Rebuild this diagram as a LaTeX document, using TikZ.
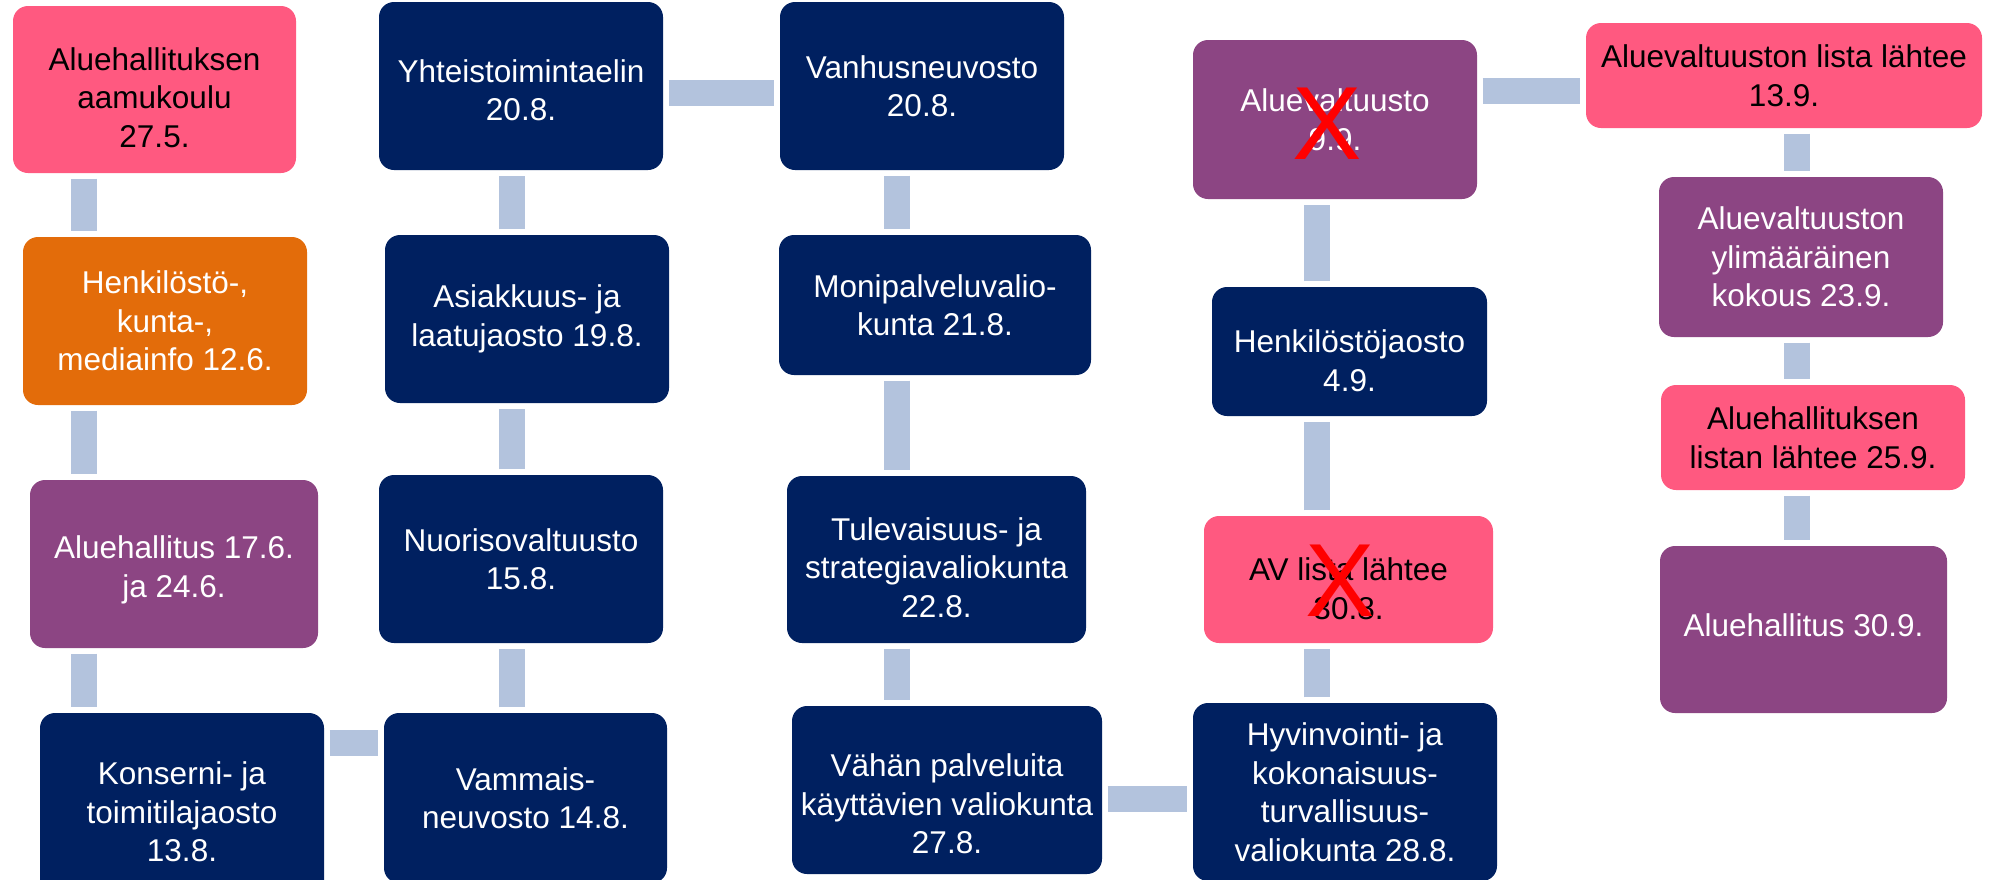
\documentclass[tikz,border=0pt]{standalone}
\usepackage{fontspec}
\setmainfont{Liberation Sans}
\usepackage{xcolor}
\usepackage{tikz}
\definecolor{ahnavy}{RGB}{0,32,96}
\definecolor{ahviolet}{RGB}{140,69,131}
\definecolor{ahpink}{RGB}{255,89,128}
\definecolor{ahorange}{RGB}{227,108,10}
\definecolor{ahsteel}{RGB}{179,195,221}
\tikzstyle{card} = [rectangle, rounded corners=15pt, inner sep=2pt, align=center, font=\fontsize{31.5}{38.5}\selectfont]
\tikzstyle{meeting} = [card, fill=ahnavy, text=white]
\tikzstyle{council} = [card, fill=ahviolet, text=white]
\tikzstyle{listdue} = [card, fill=ahpink, text=black]
\tikzstyle{info} = [card, fill=ahorange, text=white]
\tikzstyle{link} = [draw=ahsteel, line width=26pt, shorten <=5.5pt, shorten >=5.5pt]
\tikzstyle{cancel} = [text=red, inner sep=0pt, font=\fontsize{104}{104}\selectfont]

\begin{document}
\begin{tikzpicture}[x=1pt, y=-1pt]
        \clip (0,0) rectangle (1993,879);

        \node (aamukoulu) [listdue, minimum width=283pt, minimum height=167pt] at (154.5,89.5) {\rule{0pt}{38.5pt}Aluehallituksen\\aamukoulu\\27.5.};
        \node (mediainfo) [info, minimum width=284pt, minimum height=168pt] at (165,321) {Henkilöstö-,\\kunta-,\\mediainfo 12.6.};
        \node (ah1706) [council, minimum width=288pt, minimum height=168pt] at (174,564) {\rule{0pt}{35pt}Aluehallitus 17.6.\\ja 24.6.};
        \node (konserni) [meeting, minimum width=284pt, minimum height=198pt] at (182,812) {Konserni- ja\\toimitilajaosto\\13.8.};

        \node (yhteis) [meeting, minimum width=284pt, minimum height=168pt] at (521,86) {\rule{0pt}{31pt}Yhteistoimintaelin\\20.8.};
        \node (asiakkuus) [meeting, minimum width=284pt, minimum height=168pt] at (527,319) {Asiakkuus- ja\\laatujaosto 19.8.};
        \node (nuoriso) [meeting, minimum width=284pt, minimum height=168pt] at (521,559) {Nuorisovaltuusto\\15.8.};
        \node (vammais) [meeting, minimum width=283pt, minimum height=170pt] at (525.5,798) {Vammais-\\neuvosto 14.8.};

        \node (vanhus) [meeting, minimum width=284pt, minimum height=168pt] at (922,86) {Vanhusneuvosto\\20.8.};
        \node (moni) [meeting, minimum width=312pt, minimum height=140pt] at (935,305) {Monipalveluvalio-\\kunta 21.8.};
        \node (tulevaisuus) [meeting, minimum width=299pt, minimum height=167pt] at (936.5,559.5) {\rule{0pt}{39pt}Tulevaisuus- ja\\strategiavaliokunta\\22.8.};
        \node (vahan) [meeting, minimum width=310pt, minimum height=168pt] at (947,790) {\rule{0pt}{51pt}Vähän palveluita\\käyttävien valiokunta\\27.8.};

        \node (aluevaltuusto) [council, minimum width=284pt, minimum height=159pt] at (1335,119.5) {Aluevaltuusto\\9.9.};
        \node (henkilosto) [meeting, minimum width=275pt, minimum height=129pt] at (1349.5,351.5) {\rule{0pt}{41pt}Henkilöstöjaosto\\4.9.};
        \node (avlista) [listdue, minimum width=289pt, minimum height=127pt] at (1348.5,579.5) {\rule{0pt}{41pt}AV lista lähtee\\30.8.};
        \node (hyvinvointi) [meeting, minimum width=304pt, minimum height=178pt] at (1345,792) {Hyvinvointi- ja\\kokonaisuus-\\turvallisuus-\\valiokunta 28.8.};

        \node (avlista13) [listdue, minimum width=396pt, minimum height=105pt] at (1784,75.5) {Aluevaltuuston lista lähtee\\13.9.};
        \node (ylimaarainen) [council, minimum width=284pt, minimum height=160pt] at (1801,257) {Aluevaltuuston\\ylimääräinen\\kokous 23.9.};
        \node (ahlista) [listdue, minimum width=304pt, minimum height=105pt] at (1813,437.5) {Aluehallituksen\\listan lähtee 25.9.};
        \node (ah3009) [council, minimum width=287pt, minimum height=167pt] at (1803.5,629.5) {Aluehallitus 30.9.\rule[-8pt]{0pt}{0pt}};

        % cancelled dates
        \node (cross1) [cancel] at (1327.5,124) {X};
        \node (cross2) [cancel] at (1340.5,580.5) {X};

        \coordinate (c1) at (84,0);
        \coordinate (c2) at (512,0);
        \coordinate (c3) at (897,0);
        \coordinate (c4) at (1317,0);
        \coordinate (c5) at (1796.5,0);
        \coordinate (r1) at (0,92.5);
        \coordinate (r2) at (0,91);
        \coordinate (r3) at (0,743);
        \coordinate (r4) at (0,799);

        \draw[link] (aamukoulu.south -| c1) -- (mediainfo.north -| c1);
        \draw[link] (mediainfo.south -| c1) -- (ah1706.north -| c1);
        \draw[link] (ah1706.south -| c1) -- (konserni.north -| c1);
        \draw[link] (konserni.east |- r3) -- (vammais.west |- r3);
        \draw[link] (vammais.north -| c2) -- (nuoriso.south -| c2);
        \draw[link] (nuoriso.north -| c2) -- (asiakkuus.south -| c2);
        \draw[link] (asiakkuus.north -| c2) -- (yhteis.south -| c2);
        \draw[link] (yhteis.east |- r1) -- (vanhus.west |- r1);
        \draw[link] (vanhus.south -| c3) -- (moni.north -| c3);
        \draw[link] (moni.south -| c3) -- (tulevaisuus.north -| c3);
        \draw[link] (tulevaisuus.south -| c3) -- (vahan.north -| c3);
        \draw[link] (vahan.east |- r4) -- (hyvinvointi.west |- r4);
        \draw[link] (hyvinvointi.north -| c4) -- (avlista.south -| c4);
        \draw[link] (avlista.north -| c4) -- (henkilosto.south -| c4);
        \draw[link] (henkilosto.north -| c4) -- (aluevaltuusto.south -| c4);
        \draw[link] (aluevaltuusto.east |- r2) -- (avlista13.west |- r2);
        \draw[link] (avlista13.south -| c5) -- (ylimaarainen.north -| c5);
        \draw[link] (ylimaarainen.south -| c5) -- (ahlista.north -| c5);
        \draw[link] (ahlista.south -| c5) -- (ah3009.north -| c5);
    \end{tikzpicture}
\end{document}
